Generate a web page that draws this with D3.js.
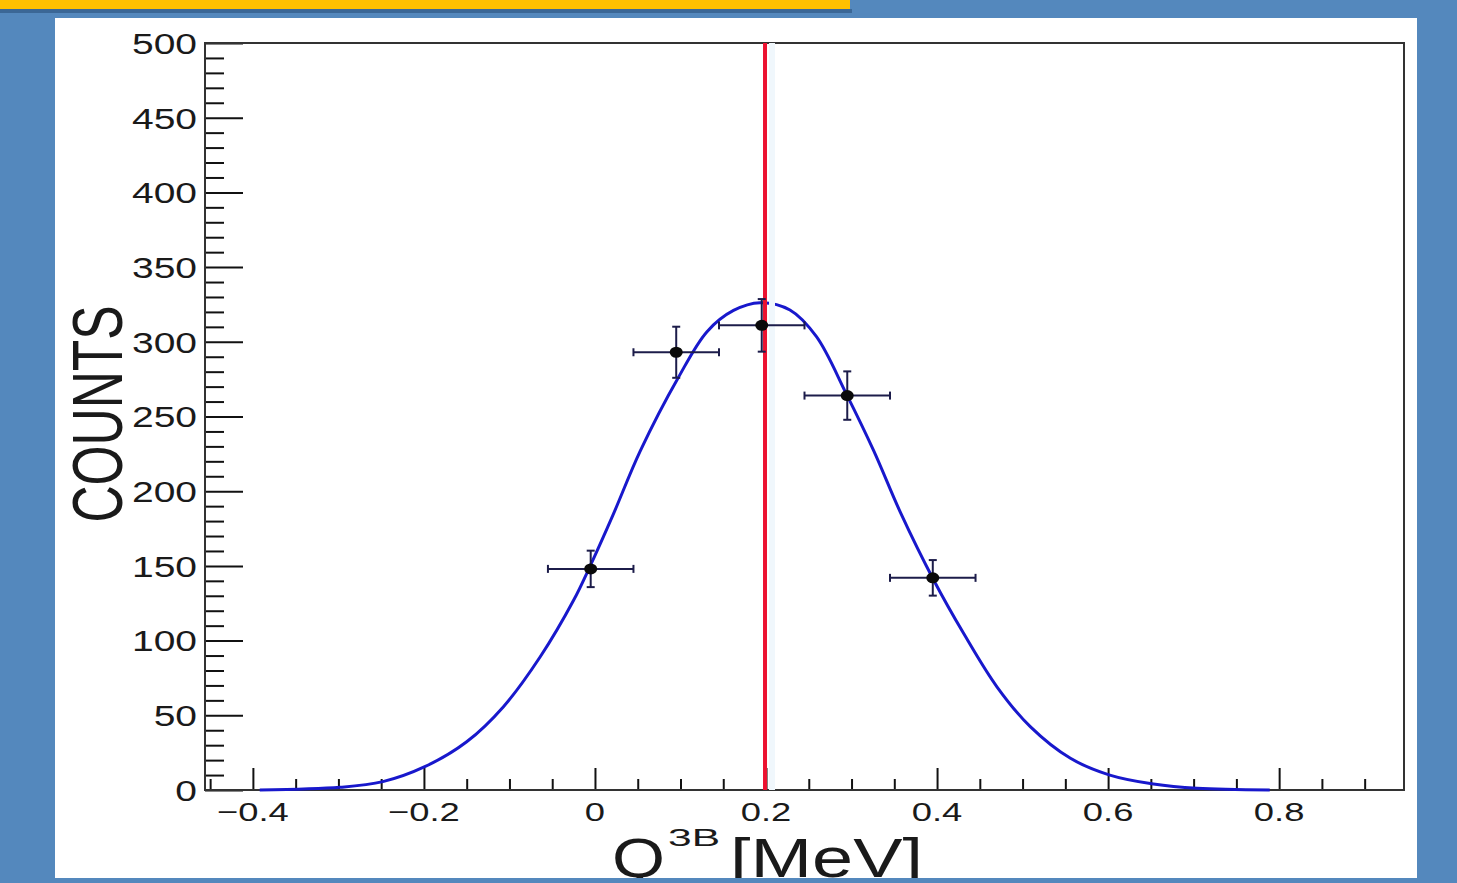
<!DOCTYPE html>
<head>
    <title>Q3B fit</title>
    <meta charset="utf-8">
    <script src="https://cdn.jsdelivr.net/npm/d3@7"></script>
    <style>
        body { margin: 0; background: #5488bd; }
        svg { display: block; }
        .lbl { font-family: "Liberation Sans", Arial, sans-serif; fill: #1a1a1a; }
    </style>
</head>

<body>
<div id="chart"></div>
<script>

    // data
    const pointX    = [-0.005, 0.095, 0.195, 0.295, 0.395];
    const pointY    = [148, 293, 311, 264, 142];
    const pointErrX = [0.05, 0.05, 0.05, 0.05, 0.05];
    const pointErrY = [12.2, 17.1, 17.6, 16.2, 11.9];

    const fitX = [-0.392, -0.298, -0.248, -0.199, -0.150, -0.107, -0.064, -0.025, -0.006, 0.021, 0.053, 0.097,
                  0.131, 0.162, 0.193, 0.228, 0.259, 0.294, 0.326, 0.357, 0.396, 0.431, 0.470, 0.509,
                  0.556, 0.602, 0.653, 0.704, 0.789];
    const fitY = [0, 1.8, 5.6, 15.6, 32.3, 55.8, 89.2, 127, 149.5, 184, 227, 275.6,
                  306.8, 321, 326.2, 321.3, 303.4, 265, 227, 186, 140.6, 104.9, 69.1, 42.4,
                  21.2, 10, 4, 1.1, 0];

    const cutValue = 0.2;

    const yMajor = [0, 50, 100, 150, 200, 250, 300, 350, 400, 450, 500];
    const yLabels = ["0", "50", "100", "150", "200", "250", "300", "350", "400", "450", "500"];
    const xMajor = [-0.4, -0.2, 0, 0.2, 0.4, 0.6, 0.8];
    const xLabels = ["\u22120.4", "\u22120.2", "0", "0.2", "0.4", "0.6", "0.8"];

    const yTitle = "COUNTS";
    const xTitleMain = "Q";
    const xTitleSup = "3B";
    const xTitleUnit = "[MeV]";

    // dimensions
    var svgWidth = 1457;
    var svgHeight = 883;
    var frame = {left: 205, top: 43, right: 1404, bottom: 790};

    var svg = d3.select('#chart').append('svg')
        .attr('width', svgWidth)
        .attr('height', svgHeight);

    // slide background
    svg.append('rect')
        .attr('width', svgWidth).attr('height', svgHeight)
        .style('fill', '#5488bd');
    svg.append('rect')
        .attr('x', 0).attr('y', 9).attr('width', 852).attr('height', 4)
        .style('fill', '#3b6796');
    svg.append('rect')
        .attr('x', 0).attr('y', 0).attr('width', 850).attr('height', 9)
        .style('fill', '#ffc000');
    svg.append('rect')
        .attr('x', 55).attr('y', 18).attr('width', 1362).attr('height', 860)
        .style('fill', '#ffffff');

    svg.append('clipPath').attr('id', 'panel-clip')
        .append('rect')
        .attr('x', 55).attr('y', 18).attr('width', 1362).attr('height', 860);

    // scales
    const x = d3.scaleLinear()
        .domain([-0.456, 0.946])
        .range([frame.left, frame.right]);
    const y = d3.scaleLinear()
        .domain([0, 500])
        .range([frame.bottom, frame.top]);

    // ticks pointing inward like ROOT
    const yMinor = d3.range(0, 501, 10).filter(v => v % 50 !== 0);
    const xMinor = d3.range(-0.45, 0.95, 0.05).map(v => +v.toFixed(2))
        .filter(v => !xMajor.some(m => Math.abs(m - v) < 1e-6));

    function tickAxis(axis) {
        return g => {
            g.call(axis);
            g.select('.domain').remove();
            g.selectAll('.tick line').style('stroke', '#111').style('stroke-width', 2);
            g.selectAll('.tick text').remove();
        };
    }

    svg.append('g').attr('transform', `translate(${frame.left},0)`)
        .call(tickAxis(d3.axisRight(y).tickValues(yMajor).tickSize(38)));
    svg.append('g').attr('transform', `translate(${frame.left},0)`)
        .call(tickAxis(d3.axisRight(y).tickValues(yMinor).tickSize(19)));
    svg.append('g').attr('transform', `translate(0,${frame.bottom})`)
        .call(tickAxis(d3.axisTop(x).tickValues(xMajor).tickSize(22)));
    svg.append('g').attr('transform', `translate(0,${frame.bottom})`)
        .call(tickAxis(d3.axisTop(x).tickValues(xMinor).tickSize(11)));

    // frame
    svg.append('rect')
        .attr('x', frame.left).attr('y', frame.top)
        .attr('width', frame.right - frame.left)
        .attr('height', frame.bottom - frame.top)
        .style('fill', 'none')
        .style('stroke', '#333')
        .style('stroke-width', 2);

    // tick labels
    svg.selectAll('.ylab')
        .data(yMajor)
        .enter()
        .append('g')
            .attr('transform', d => `translate(197,${y(d)}) scale(1.3,1)`)
        .append('text')
            .attr('class', 'lbl')
            .attr('text-anchor', 'end')
            .attr('dy', '0.36em')
            .style('font-size', '30px')
            .text((d, i) => yLabels[i]);

    svg.selectAll('.xlab')
        .data(xMajor)
        .enter()
        .append('g')
            .attr('transform', d => `translate(${x(d)},821) scale(1.4,1)`)
        .append('text')
            .attr('class', 'lbl')
            .attr('text-anchor', 'middle')
            .style('font-size', '26px')
            .text((d, i) => xLabels[i]);

    // axis titles
    svg.append('text')
        .attr('class', 'lbl')
        .attr('transform', 'translate(122,414) rotate(-90)')
        .attr('text-anchor', 'middle')
        .attr('textLength', 217)
        .attr('lengthAdjust', 'spacingAndGlyphs')
        .style('font-size', '70px')
        .text(yTitle);

    // title is cut by the bottom of the white panel, as on the slide
    const xTitle = svg.append('g').attr('clip-path', 'url(#panel-clip)');
    xTitle.append('text')
        .attr('class', 'lbl')
        .attr('x', 612).attr('y', 877)
        .attr('textLength', 53)
        .attr('lengthAdjust', 'spacingAndGlyphs')
        .style('font-size', '56px')
        .text(xTitleMain);
    xTitle.append('text')
        .attr('class', 'lbl')
        .attr('x', 668).attr('y', 846)
        .attr('textLength', 52)
        .attr('lengthAdjust', 'spacingAndGlyphs')
        .style('font-size', '24px')
        .text(xTitleSup);
    xTitle.append('text')
        .attr('class', 'lbl')
        .attr('x', 730).attr('y', 877)
        .attr('textLength', 193)
        .attr('lengthAdjust', 'spacingAndGlyphs')
        .style('font-size', '56px')
        .text(xTitleUnit);

    // fit curve
    const fitLine = d3.line()
        .x(d => x(d[0]))
        .y(d => y(d[1]))
        .curve(d3.curveCatmullRom.alpha(0.5));

    svg.append('path')
        .datum(fitX.map((v, i) => [v, fitY[i]]))
        .attr('d', fitLine)
        .style('fill', 'none')
        .style('stroke', '#1818cc')
        .style('stroke-width', 3);

    // cut line
    svg.append('line')
        .attr('x1', x(cutValue) + 6).attr('x2', x(cutValue) + 6)
        .attr('y1', frame.top).attr('y2', frame.bottom)
        .style('stroke', '#f0f7fc')
        .style('stroke-width', 6);
    svg.append('line')
        .attr('x1', x(cutValue) - 1).attr('x2', x(cutValue) - 1)
        .attr('y1', frame.top).attr('y2', frame.bottom)
        .style('stroke', '#ec1230')
        .style('stroke-width', 4);

    // data points with error bars
    const points = pointX.map((v, i) => ({x: v, y: pointY[i], ex: pointErrX[i], ey: pointErrY[i]}));
    const pg = svg.selectAll('.pt')
        .data(points)
        .enter()
        .append('g')
            .classed('pt', true);

    const errColor = '#1c1c4a';
    pg.append('line')
        .attr('x1', d => x(d.x - d.ex)).attr('x2', d => x(d.x + d.ex))
        .attr('y1', d => y(d.y)).attr('y2', d => y(d.y))
        .style('stroke', errColor).style('stroke-width', 2);
    pg.append('line')
        .attr('x1', d => x(d.x)).attr('x2', d => x(d.x))
        .attr('y1', d => y(d.y - d.ey)).attr('y2', d => y(d.y + d.ey))
        .style('stroke', errColor).style('stroke-width', 2);
    // end caps
    [-1, 1].forEach(s => {
        pg.append('line')
            .attr('x1', d => x(d.x + s * d.ex)).attr('x2', d => x(d.x + s * d.ex))
            .attr('y1', d => y(d.y) - 4).attr('y2', d => y(d.y) + 4)
            .style('stroke', errColor).style('stroke-width', 2);
        pg.append('line')
            .attr('x1', d => x(d.x) - 4).attr('x2', d => x(d.x) + 4)
            .attr('y1', d => y(d.y + s * d.ey)).attr('y2', d => y(d.y + s * d.ey))
            .style('stroke', errColor).style('stroke-width', 2);
    });
    pg.append('ellipse')
        .attr('cx', d => x(d.x)).attr('cy', d => y(d.y))
        .attr('rx', 6.5).attr('ry', 5.5)
        .style('fill', '#0a0a0a');

</script>
</body>
</html>
